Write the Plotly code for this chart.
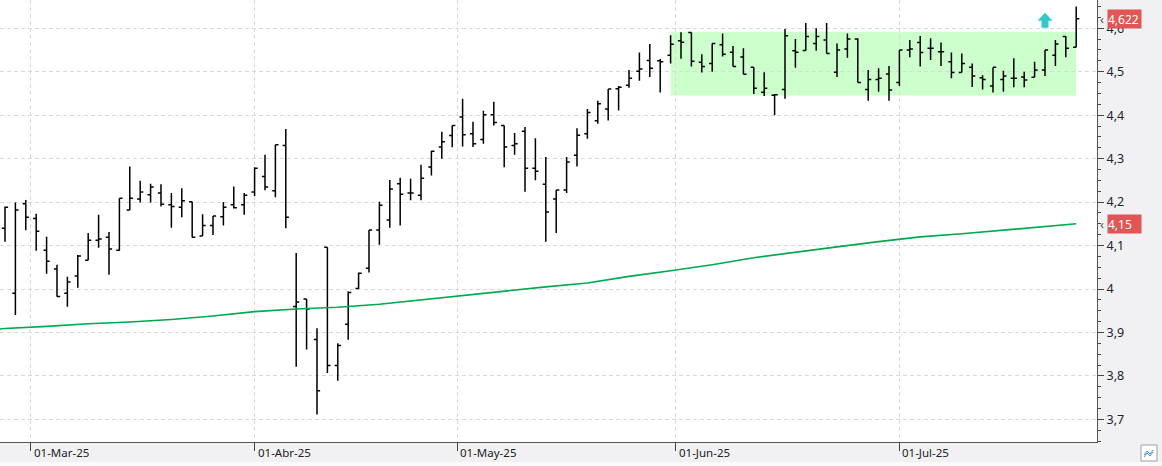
import pandas as pd
import plotly.graph_objects as go

# ---------------- data ----------------
holidays = ["2025-04-18", "2025-04-21", "2025-05-01"]
dates = [d for d in pd.bdate_range("2025-02-26", "2025-07-24") if d.strftime("%Y-%m-%d") not in holidays]

open_ = [4.140, 3.990, 4.196, 4.162, 4.089, 4.046, 3.990, 4.030, 4.066, 4.112,
         4.119, 4.089, 4.182, 4.207, 4.217, 4.221, 4.194, 4.188, 4.201, 4.122,
         4.146, 4.166, 4.194, 4.194, 4.223, 4.259, 4.226, 4.330, 3.960, 3.977,
         3.884, 4.096, 3.824, 3.919, 4.001, 4.048, 4.136, 4.159, 4.242, 4.221,
         4.216, 4.281, 4.327, 4.353, 4.396, 4.357, 4.344, 4.401, 4.376, 4.330,
         4.363, 4.278, 4.241, 4.207, 4.228, 4.308, 4.357, 4.387, 4.414, 4.461,
         4.469, 4.501, 4.526, 4.525, 4.538, 4.571, 4.590, 4.522, 4.519, 4.562,
         4.545, 4.534, 4.510, 4.453, 4.446, 4.459, 4.548, 4.549, 4.565, 4.573,
         4.499, 4.552, 4.575, 4.459, 4.482, 4.495, 4.475, 4.550, 4.567, 4.554,
         4.546, 4.523, 4.498, 4.510, 4.486, 4.467, 4.482, 4.485, 4.488, 4.487,
         4.504, 4.538, 4.581, 4.556]
high = [4.190, 4.199, 4.205, 4.173, 4.120, 4.056, 4.028, 4.078, 4.129, 4.171,
        4.131, 4.209, 4.282, 4.249, 4.242, 4.241, 4.221, 4.232, 4.201, 4.172,
        4.168, 4.200, 4.236, 4.221, 4.280, 4.309, 4.332, 4.368, 4.083, 3.977,
        3.910, 4.096, 3.875, 3.995, 4.038, 4.136, 4.201, 4.251, 4.256, 4.254,
        4.286, 4.318, 4.362, 4.376, 4.438, 4.385, 4.410, 4.431, 4.376, 4.359,
        4.373, 4.347, 4.304, 4.228, 4.304, 4.370, 4.414, 4.433, 4.460, 4.467,
        4.504, 4.544, 4.564, 4.529, 4.584, 4.591, 4.590, 4.540, 4.565, 4.588,
        4.559, 4.554, 4.510, 4.499, 4.449, 4.598, 4.575, 4.612, 4.600, 4.612,
        4.565, 4.588, 4.577, 4.504, 4.508, 4.513, 4.550, 4.573, 4.582, 4.577,
        4.567, 4.544, 4.542, 4.519, 4.492, 4.510, 4.502, 4.531, 4.500, 4.523,
        4.550, 4.573, 4.582, 4.650]
low = [4.109, 3.940, 4.135, 4.088, 4.035, 3.982, 3.959, 4.003, 4.066, 4.095,
       4.033, 4.088, 4.181, 4.199, 4.199, 4.190, 4.141, 4.165, 4.119, 4.122,
       4.124, 4.146, 4.185, 4.171, 4.214, 4.227, 4.211, 4.140, 3.821, 3.861,
       3.711, 3.807, 3.789, 3.883, 4.000, 4.038, 4.102, 4.141, 4.146, 4.204,
       4.204, 4.261, 4.300, 4.326, 4.328, 4.327, 4.334, 4.376, 4.280, 4.309,
       4.224, 4.250, 4.109, 4.129, 4.221, 4.282, 4.346, 4.380, 4.388, 4.411,
       4.463, 4.479, 4.488, 4.452, 4.519, 4.530, 4.512, 4.498, 4.500, 4.535,
       4.512, 4.494, 4.449, 4.444, 4.400, 4.438, 4.509, 4.548, 4.548, 4.542,
       4.488, 4.532, 4.475, 4.433, 4.454, 4.433, 4.467, 4.533, 4.512, 4.527,
       4.513, 4.485, 4.498, 4.465, 4.459, 4.452, 4.454, 4.464, 4.464, 4.487,
       4.490, 4.513, 4.533, 4.556]
close = [4.188, 4.182, 4.165, 4.133, 4.064, 3.983, 4.016, 4.076, 4.112, 4.115,
         4.092, 4.209, 4.209, 4.223, 4.235, 4.195, 4.190, 4.203, 4.119, 4.146,
         4.168, 4.188, 4.187, 4.216, 4.278, 4.235, 4.332, 4.165, 3.970, 3.954,
         3.766, 3.824, 3.870, 3.992, 4.036, 4.136, 4.193, 4.230, 4.218, 4.221,
         4.255, 4.317, 4.339, 4.376, 4.355, 4.334, 4.401, 4.383, 4.327, 4.334,
         4.278, 4.271, 4.177, 4.228, 4.292, 4.354, 4.406, 4.426, 4.460, 4.464,
         4.485, 4.506, 4.508, 4.523, 4.563, 4.568, 4.524, 4.512, 4.565, 4.540,
         4.512, 4.494, 4.462, 4.462, 4.447, 4.583, 4.545, 4.581, 4.581, 4.542,
         4.550, 4.575, 4.475, 4.482, 4.485, 4.458, 4.550, 4.552, 4.544, 4.554,
         4.546, 4.498, 4.519, 4.490, 4.482, 4.510, 4.490, 4.485, 4.481, 4.504,
         4.550, 4.564, 4.554, 4.622]

# moving average (read at selected bars; -1 = session before first bar)
ma_bar = [-1, 0, 4, 8, 12, 16, 20, 24, 28, 32, 36, 40, 44, 48, 52, 56, 60,
          64, 68, 72, 76, 80, 84, 88, 92, 96, 100, 103]
ma_val = [3.907, 3.909, 3.914, 3.920, 3.924, 3.930, 3.938, 3.948, 3.954, 3.958,
          3.965, 3.975, 3.986, 3.996, 4.005, 4.014, 4.029, 4.042, 4.056, 4.072,
          4.085, 4.097, 4.109, 4.120, 4.127, 4.135, 4.143, 4.150]

# lateral range box (start bar, end bar, low, high)
box_bars = [64, 103]
box_levels = [4.445, 4.592]
signal_bar = 100

month_labels = ["01-Mar-25", "01-Abr-25", "01-May-25", "01-Jun-25", "01-Jul-25"]
month_keys = ["2025-03", "2025-04", "2025-05", "2025-06", "2025-07"]

y_ticks = [3.7, 3.8, 3.9, 4.0, 4.1, 4.2, 4.3, 4.4, 4.5, 4.6]
y_ticktext = ["3,7", "3,8", "3,9", "4", "4,1", "4,2", "4,3", "4,4", "4,5", "4,6"]

# ---------------- derived ----------------
x = list(range(len(dates)))
tickvals = []
for key in month_keys:
    idx = next(i for i, d in enumerate(dates) if d.strftime("%Y-%m") == key)
    tickvals.append(idx if dates[idx].day == 1 else idx - 0.5)

PLOT_W, PLOT_H = 1097, 442
FONT = "Noto Sans"

fig = go.Figure()
fig.add_trace(go.Ohlc(
    x=x, open=open_, high=high, low=low, close=close,
    increasing=dict(line=dict(color="#000000", width=1.5)),
    decreasing=dict(line=dict(color="#000000", width=1.5)),
    tickwidth=0.3, showlegend=False, hoverinfo="skip",
))
fig.add_trace(go.Scatter(
    x=ma_bar, y=ma_val, mode="lines",
    line=dict(color="#00a84f", width=1.6), showlegend=False, hoverinfo="skip",
))

shapes = [
    dict(type="rect", xref="x", yref="y", x0=box_bars[0], x1=box_bars[1],
         y0=box_levels[0], y1=box_levels[1], fillcolor="#ccffcc",
         line=dict(width=0), layer="below"),
    # up arrow signal
    dict(type="path", xref="x", yref="y", xsizemode="pixel", ysizemode="pixel",
         xanchor=signal_bar, yanchor=4.601,
         path="M -3.5 0 L 3.5 0 L 3.5 7 L 7.5 7 L 0 15 L -7.5 7 L -3.5 7 Z",
         fillcolor="#33c9c9", line=dict(width=0)),
    # white strip at very bottom
    dict(type="rect", xref="paper", yref="paper", x0=0, x1=1162 / PLOT_W,
         y0=(PLOT_H - 466) / PLOT_H, y1=(PLOT_H - 462) / PLOT_H,
         fillcolor="#fafafa", line=dict(width=0)),
    # small icon box bottom right
    dict(type="rect", xref="paper", yref="paper",
         x0=1141 / PLOT_W, x1=1157 / PLOT_W,
         y0=(PLOT_H - 445) / PLOT_H, y1=(PLOT_H - 461) / PLOT_H,
         fillcolor="#ffffff", line=dict(color="#a0a0a0", width=1)),
    dict(type="path", xref="paper", yref="paper", xsizemode="pixel", ysizemode="pixel",
         xanchor=1149 / PLOT_W, yanchor=(PLOT_H - 453) / PLOT_H,
         path="M -5 -2 L -2 2 L 1 -1 L 4 3 M -5 -4 L -2 0 L 1 -3 L 4 1",
         line=dict(color="#4a90d9", width=1)),
]

last_close_txt = f"{close[-1]:.3f}".replace(".", ",")
last_ma_txt = f"{ma_val[-1]:.2f}".replace(".", ",")
annotations = []
for val, txt in [(close[-1], last_close_txt), (ma_val[-1], last_ma_txt)]:
    annotations.append(dict(
        xref="paper", yref="y", x=1107 / PLOT_W, y=val, xanchor="left", yanchor="middle",
        text=txt, showarrow=False, font=dict(family=FONT, size=12, color="#ffffff"),
        bgcolor="#e25555", width=33, height=18, align="left", borderpad=0,
    ))
    annotations.append(dict(
        xref="paper", yref="y", x=1098 / PLOT_W, y=val, xanchor="left", yanchor="middle",
        text="‹", showarrow=False, font=dict(family=FONT, size=13, color="#555555"),
    ))
# month labels to the right of their tick
for tv, lab in zip(tickvals, month_labels):
    annotations.append(dict(
        xref="x", yref="paper", x=tv, y=0, xanchor="left", yanchor="top",
        xshift=1, yshift=-1, text=lab, showarrow=False,
        font=dict(family=FONT, size=11.5, color="#222222"),
    ))

fig.update_layout(
    width=1162, height=466,
    margin=dict(l=0, r=1162 - PLOT_W, t=0, b=466 - PLOT_H),
    paper_bgcolor="#f1f1f3", plot_bgcolor="#ffffff",
    shapes=shapes, annotations=annotations,
    xaxis=dict(
        type="linear", range=[-0.48, 105.0], rangeslider=dict(visible=False),
        tickmode="array", tickvals=tickvals, ticktext=month_labels,
        showticklabels=False,
        ticks="outside", ticklen=8, tickcolor="#444444", tickwidth=1,
        showline=True, linecolor="#555555", linewidth=1,
        showgrid=True, gridcolor="#d9d9d9", griddash="4px,3px", gridwidth=1,
        zeroline=False, fixedrange=True,
    ),
    yaxis=dict(
        side="right", range=[3.648, 4.665],
        tickmode="array", tickvals=y_ticks, ticktext=y_ticktext,
        ticks="outside", ticklen=6, tickcolor="#444444", tickwidth=1,
        minor=dict(dtick=0.025, tick0=3.6, ticks="outside", ticklen=3, tickcolor="#444444", showgrid=False),
        tickfont=dict(family=FONT, size=12.5, color="#1f2330"),
        showline=True, linecolor="#555555", linewidth=1,
        showgrid=True, gridcolor="#d9d9d9", griddash="4px,3px", gridwidth=1,
        zeroline=False, fixedrange=True,
    ),
)

fig.write_html("out.html")
